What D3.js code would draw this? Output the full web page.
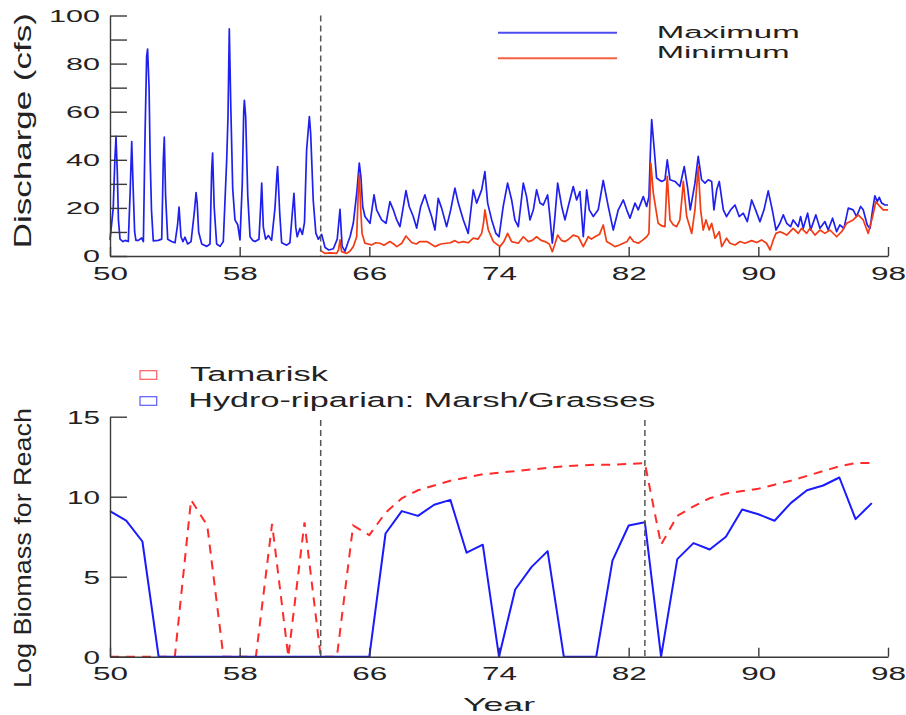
<!DOCTYPE html>
<html>
<head>
<meta charset="utf-8">
<script src="https://cdn.jsdelivr.net/npm/d3@7"></script>
<style>
  html, body { margin: 0; padding: 0; background: #fff; }
  svg { display: block; }
  text { font-family: "Liberation Sans", Arial, Helvetica, sans-serif; fill: #222; }
</style>
</head>
<body>
<svg id="chart" width="906" height="715"></svg>
<script>
// ---------------- DATA ----------------
// Top panel: discharge (cfs), [year (19xx), value]
const maxDischarge = [
[50.0,6.7],[50.2,20],[50.3,40],[50.37,49.7],[50.45,35],[50.52,15],[50.62,7],[50.8,6],[50.93,6.5],[51.13,6],[51.25,28],[51.34,47.6],[51.42,30],[51.52,10],[51.6,6.5],[51.75,6.5],[51.95,7.5],[52.06,6],[52.16,49.7],[52.26,83],[52.32,86],[52.41,70],[52.48,40],[52.56,19],[52.67,6.3],[52.98,6.5],[53.19,7],[53.29,40],[53.35,49.4],[53.43,25],[53.56,7],[53.8,6],[54.01,5.5],[54.17,13],[54.26,20.3],[54.38,8],[54.5,6],[54.63,7.8],[54.79,5],[55.0,6],[55.2,18],[55.31,26.4],[55.38,22],[55.47,10],[55.66,5],[55.97,4],[56.17,5],[56.27,35],[56.33,42.8],[56.43,20],[56.58,5],[56.79,4],[56.99,6],[57.2,40],[57.28,58],[57.36,94.4],[57.46,60],[57.57,28],[57.71,15],[57.88,13],[58.02,6.7],[58.16,30],[58.25,60],[58.29,64.7],[58.37,58],[58.5,25],[58.64,8],[58.8,6.5],[58.95,6],[59.19,7],[59.29,20],[59.36,30.3],[59.46,12],[59.6,7],[59.77,8.5],[59.97,6.5],[60.18,20],[60.3,34],[60.34,37.2],[60.47,18],[60.59,5.5],[60.9,4.5],[61.1,5.5],[61.25,18],[61.35,26.1],[61.46,12],[61.55,8],[61.72,11.5],[61.87,9],[62.0,14],[62.13,44],[62.3,58],[62.38,51],[62.54,23],[62.7,9.5],[62.85,7],[63.06,9],[63.27,3.5],[63.5,2.5],[63.78,3],[64.02,7],[64.19,19.4],[64.32,4],[64.5,2],[64.7,6],[64.81,8],[65.01,13.6],[65.22,26],[65.38,38.6],[65.48,33],[65.59,20.6],[65.73,16.4],[66.04,13.6],[66.29,25.4],[66.45,19.2],[66.76,15],[67.03,13.6],[67.27,22.6],[67.48,19.2],[67.69,15],[67.89,12.2],[68.1,20.6],[68.26,27.2],[68.46,20.6],[68.71,16.4],[68.92,11.6],[69.17,20.6],[69.43,25.4],[69.64,20.6],[69.84,16.4],[70.05,10.8],[70.25,24],[70.46,19.9],[70.77,12.2],[71.02,19.2],[71.28,28.2],[71.49,22],[71.8,15],[72.1,9.4],[72.41,27.5],[72.62,22],[72.93,27.5],[73.13,35.1],[73.3,22],[73.55,15],[73.81,9.4],[74.0,8],[74.26,20.6],[74.53,30.3],[74.78,23.3],[74.98,15],[75.19,12.2],[75.5,30.3],[75.7,24.7],[75.91,15],[76.12,19.2],[76.32,27.5],[76.53,22],[76.73,21.2],[77.0,25.4],[77.14,16.4],[77.29,5.3],[77.45,16.4],[77.62,30.3],[77.87,20.6],[78.07,15],[78.27,20.6],[78.58,28.9],[78.79,23.3],[78.99,26.8],[79.2,8],[79.41,27.5],[79.57,19.2],[79.82,16.4],[80.12,19.2],[80.43,31.4],[80.74,20.6],[81.05,10.8],[81.36,19.2],[81.67,23.3],[81.88,19.2],[82.08,15.7],[82.39,22],[82.59,19.2],[82.9,24.7],[83.11,20.6],[83.25,24.7],[83.35,45],[83.42,56.7],[83.58,44.2],[83.72,32.4],[84.03,31],[84.24,31.7],[84.38,40],[84.55,31.7],[84.86,31],[85.16,28.9],[85.43,37.2],[85.64,28.2],[85.8,19.2],[86.09,30.3],[86.29,41.4],[86.5,31.7],[86.71,30.3],[86.91,31.7],[87.12,31],[87.26,19.2],[87.43,27.5],[87.59,31],[87.84,19.2],[88.04,16.4],[88.29,19.2],[88.56,21.2],[88.82,16.4],[89.07,17.8],[89.32,14.3],[89.59,23.3],[89.83,19.2],[90.1,14.3],[90.35,19.2],[90.61,27.1],[90.86,19.2],[91.09,10.8],[91.33,13.6],[91.54,17.1],[91.75,13.6],[91.99,12.2],[92.15,15],[92.46,12.2],[92.61,16.4],[92.77,11.5],[93.04,17.8],[93.23,10.8],[93.55,17.1],[93.8,11.5],[94.11,14.3],[94.31,10.8],[94.58,15.7],[94.83,10.1],[95.03,12.9],[95.28,11.5],[95.55,19.9],[95.85,19.2],[96.06,16.4],[96.31,20.6],[96.47,19.2],[96.72,12.9],[96.89,11.5],[97.05,19.2],[97.19,25],[97.34,22.6],[97.46,24.4],[97.61,22],[97.81,21.2],[98.0,21.2]
];
const minDischarge = [
[62.96,2.5],[63.1,1.8],[63.26,1.1],[63.6,1.3],[63.98,1.1],[64.1,2.5],[64.19,6.7],[64.29,1.8],[64.6,1.1],[64.8,2],[65.01,3.9],[65.22,8],[65.32,27.5],[65.38,33.8],[65.47,19.2],[65.55,9.4],[65.73,5.3],[66.14,4.6],[66.4,5.5],[66.66,5.3],[66.9,4.5],[67.27,6],[67.5,5],[67.69,3.9],[68.0,5.3],[68.26,8.3],[68.61,5.6],[68.9,5],[69.12,6],[69.54,6],[69.8,5],[70.05,3.9],[70.4,5],[70.77,5.3],[71.0,5.5],[71.28,6.4],[71.5,5.5],[71.8,6],[72.1,5.5],[72.41,7.4],[72.7,7],[72.93,9.4],[73.05,14],[73.13,19.2],[73.34,10.8],[73.65,6],[74.06,3.9],[74.3,6],[74.53,9.4],[74.78,6],[75.19,5.3],[75.5,8],[75.81,6],[76.05,6.5],[76.32,8],[76.6,6.5],[76.84,6],[77.1,5],[77.29,1.8],[77.45,5],[77.62,8.7],[77.85,6.5],[78.07,6],[78.3,7],[78.58,8.7],[78.89,8],[79.2,3.9],[79.51,8],[79.7,7],[79.92,8],[80.2,9],[80.43,12.9],[80.64,6],[80.9,5],[81.15,3.9],[81.4,4.5],[81.67,5.3],[81.9,6],[82.08,8],[82.3,6],[82.59,5.3],[82.85,6.5],[83.11,8],[83.25,9.4],[83.32,25],[83.37,38.6],[83.52,26.1],[83.82,13.6],[84.05,12.5],[84.24,12.2],[84.32,25],[84.38,33.1],[84.55,15],[84.75,13],[84.96,12.2],[85.16,15],[85.3,25],[85.37,31],[85.58,16.4],[85.89,9.4],[86.09,19.2],[86.29,37.2],[86.44,19.2],[86.6,10.8],[86.77,15],[86.97,10.8],[87.12,13.6],[87.33,7.4],[87.59,10.1],[87.74,3.9],[88.04,7.4],[88.25,5.3],[88.56,4.6],[88.87,6],[89.17,5.3],[89.59,6.4],[89.9,5.6],[90.2,6.7],[90.51,5.3],[90.72,2.5],[90.92,6.7],[91.09,9.4],[91.33,10.1],[91.55,9.5],[91.75,8.7],[92.15,11.5],[92.46,9.4],[92.67,11.5],[92.98,9.4],[93.18,11.5],[93.49,8.7],[93.8,10.8],[94.11,9.4],[94.42,10.8],[94.83,8],[95.14,10.1],[95.45,13.6],[95.85,15],[96.16,17.1],[96.47,15],[96.78,9.4],[97.05,16.4],[97.25,22.6],[97.5,20.6],[97.7,19.2],[98.0,19.2]
];

// Bottom panel: log biomass by year
const bioYears = d3.range(50, 98);
const tamarisk = [0,0,0,0,0,9.8,8.2,0,0,0,8.3,0,8.4,0,0,8.2,7.6,9.0,9.9,10.4,10.7,11.0,11.2,11.4,11.5,11.6,11.7,11.8,11.9,11.95,12.0,12.0,12.05,12.1,7.0,8.8,9.4,9.9,10.2,10.35,10.5,10.75,11.0,11.3,11.6,11.9,12.1,12.1];
const marsh = [9.1,8.5,7.2,0,0,0,0,0,0,0,0,0,0,0,0,0,0,7.7,9.1,8.8,9.5,9.8,6.5,7.0,0,4.2,5.6,6.6,0,0,0,6.0,8.2,8.4,0,6.1,7.1,6.7,7.5,9.2,8.9,8.5,9.6,10.4,10.7,11.2,8.6,9.6];

// Event years (dashed markers)
const eventsTop = [63];
const eventsBottom = [63, 83];

// Ticks
const xTicks = [50, 58, 66, 74, 82, 90, 98];
const yTicksTop = d3.range(0, 101, 10);
const yTicksBottom = [0, 5, 10, 15];

const topLegend = ["Maximum", "Minimum"];
const bottomLegend = ["Tamarisk", "Hydro-riparian: Marsh/Grasses"];

// ---------------- DRAW ----------------
const svg = d3.select("#chart");
const FONT = '"Liberation Sans", Arial, Helvetica, sans-serif';
const AX = "#3a3a3a";
const BLUE = "#2020ee";
const RED = "#f23c14";

const x = d3.scaleLinear().domain([50, 98]).range([110, 888]);
const yTop = d3.scaleLinear().domain([0, 100]).range([256, 15.5]);
const yBot = d3.scaleLinear().domain([0, 15]).range([656.7, 416.7]);

function styleAxis(g) {
  g.select(".domain").attr("stroke", AX).attr("stroke-width", 1.4);
  g.selectAll(".tick line").attr("stroke", AX).attr("stroke-width", 1.4);
}
function styleYLabels(g, size, perChar, rightGap) {
  g.selectAll(".tick text").each(function () {
    const t = d3.select(this);
    const s = t.text();
    if (!s) return;
    const w = s.length * perChar;
    t.attr("font-family", FONT).attr("font-size", size)
      .attr("text-anchor", "start")
      .attr("x", -rightGap - w).attr("dy", (0.36 * size) + "px")
      .attr("textLength", w).attr("lengthAdjust", "spacingAndGlyphs")
      .attr("fill", "#222");
  });
}
function styleXLabels(g, size, perChar, base) {
  g.selectAll(".tick text").each(function () {
    const t = d3.select(this);
    const s = t.text();
    const w = s.length * perChar;
    t.attr("font-family", FONT).attr("font-size", size)
      .attr("text-anchor", "start")
      .attr("x", -w / 2).attr("y", base).attr("dy", 0)
      .attr("textLength", w).attr("lengthAdjust", "spacingAndGlyphs")
      .attr("fill", "#222");
  });
}
function label(str, xPos, yPos, size, width, rotate) {
  const t = svg.append("text")
    .attr("font-family", FONT).attr("font-size", size)
    .attr("textLength", width).attr("lengthAdjust", "spacingAndGlyphs")
    .text(str);
  if (rotate) {
    t.attr("transform", `translate(${xPos},${yPos}) rotate(-90)`)
      .attr("x", -width / 2).attr("y", 0);
  } else {
    t.attr("x", xPos).attr("y", yPos);
  }
  return t;
}

// ---- Top panel ----
const lineTop = d3.line().x(d => x(d[0])).y(d => yTop(d[1]));

svg.append("path").datum(maxDischarge).attr("d", lineTop)
  .attr("fill", "none").attr("stroke", BLUE).attr("stroke-width", 1.7)
  .attr("stroke-linejoin", "round");
svg.append("path").datum(minDischarge).attr("d", lineTop)
  .attr("fill", "none").attr("stroke", RED).attr("stroke-width", 1.7)
  .attr("stroke-linejoin", "round");

svg.selectAll(".evTop").data(eventsTop).enter().append("line")
  .attr("x1", d => x(d)).attr("x2", d => x(d))
  .attr("y1", yTop(100)).attr("y2", yTop(0))
  .attr("stroke", "#555").attr("stroke-width", 1.5).attr("stroke-dasharray", "6,4");

const gTY = svg.append("g").attr("transform", `translate(${x(50)},0)`)
  .call(d3.axisLeft(yTop).tickValues(yTicksTop).tickSizeInner(-17).tickSizeOuter(0)
    .tickFormat(d => d % 20 === 0 ? String(d) : ""));
styleAxis(gTY); styleYLabels(gTY, 16.5, 17, 10);

const gTX = svg.append("g").attr("transform", `translate(0,${yTop(0)})`)
  .call(d3.axisBottom(x).tickValues(xTicks).tickSizeInner(-9).tickSizeOuter(0)
    .tickFormat(d3.format("d")));
styleAxis(gTX); styleXLabels(gTX, 18.5, 17.5, 24);

label("Discharge (cfs)", 31, 130.7, 24, 235, true);

// top legend
const legTop = [{ c: BLUE, ly: 32.7, ty: 37.8, w: 143 }, { c: RED, ly: 58.3, ty: 57.5, w: 133 }];
legTop.forEach((L, i) => {
  svg.append("line").attr("x1", 498).attr("x2", 617).attr("y1", L.ly).attr("y2", L.ly)
    .attr("stroke", L.c).attr("stroke-width", 2).attr("opacity", 0.8);
  label(topLegend[i], 656.7, L.ty, 17.2, L.w, false);
});

// ---- Bottom panel ----
const lineBot = d3.line().x((d, i) => x(bioYears[i])).y(d => yBot(d));

svg.append("path").datum(tamarisk).attr("d", lineBot)
  .attr("fill", "none").attr("stroke", "#ff2a2a").attr("stroke-width", 2)
  .attr("stroke-dasharray", "9,7");
svg.append("path").datum(marsh).attr("d", lineBot)
  .attr("fill", "none").attr("stroke", "#1a1aff").attr("stroke-width", 2)
  .attr("stroke-linejoin", "round");

svg.selectAll(".evBot").data(eventsBottom).enter().append("line")
  .attr("x1", d => x(d)).attr("x2", d => x(d))
  .attr("y1", yBot(14.8)).attr("y2", yBot(0))
  .attr("stroke", "#555").attr("stroke-width", 1.5).attr("stroke-dasharray", "6,4");

const gBY = svg.append("g").attr("transform", `translate(${x(50)},0)`)
  .call(d3.axisLeft(yBot).tickValues(yTicksBottom).tickSizeInner(-17).tickSizeOuter(0)
    .tickFormat(d3.format("d")));
styleAxis(gBY); styleYLabels(gBY, 18, 16.5, 10);

const gBX = svg.append("g").attr("transform", `translate(0,${yBot(0)})`)
  .call(d3.axisBottom(x).tickValues(xTicks).tickSizeInner(-9).tickSizeOuter(0)
    .tickFormat(d3.format("d")));
styleAxis(gBX); styleXLabels(gBX, 18.5, 17.5, 23.5);

label("Log Biomass for Reach", 31, 548, 24, 280, true);
label("Year", 463, 711, 19, 72, false);

// bottom legend
const legBot = [{ c: "#ff5a5a", y: 370.7, ty: 380.7, w: 138 }, { c: "#5a5aff", y: 396.7, ty: 406.7, w: 467 }];
legBot.forEach((L, i) => {
  svg.append("rect").attr("x", 140).attr("y", L.y).attr("width", 16.7).attr("height", 8.6)
    .attr("fill", "none").attr("stroke", L.c).attr("stroke-width", 1.2);
  label(bottomLegend[i], i === 0 ? 190 : 188.3, L.ty, 20.5, L.w, false);
});
</script>
</body>
</html>
